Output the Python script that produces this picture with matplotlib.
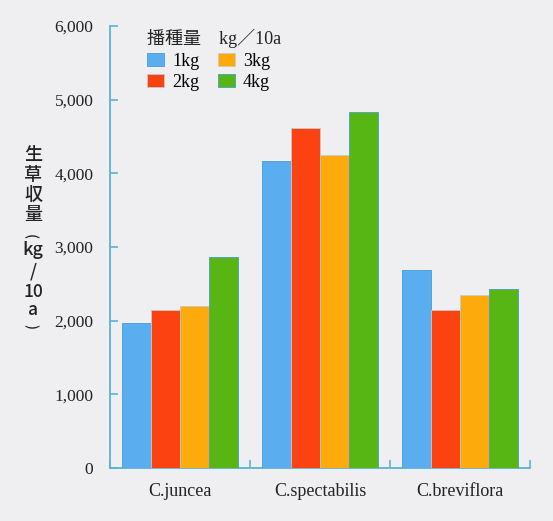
import matplotlib
matplotlib.use("Agg")
import matplotlib.pyplot as plt
from matplotlib.patches import Patch
import numpy as np

# Fresh-herb yield by species and seeding rate
species = ["C.juncea", "C.spectabilis", "C.breviflora"]
rates = ["1kg", "2kg", "3kg", "4kg"]
yield_1kg = [1970, 4170, 2690]
yield_2kg = [2150, 4610, 2140]
yield_3kg = [2200, 4245, 2355]
yield_4kg = [2860, 4835, 2435]
yticks = [0, 1000, 2000, 3000, 4000, 5000, 6000]
ytick_labels = ["0", "1,000", "2,000", "3,000", "4,000", "5,000", "6,000"]

series = [yield_1kg, yield_2kg, yield_3kg, yield_4kg]
colors = ["#5aaef0", "#fb4210", "#fdaa0c", "#58b614"]
edges = ["#3f9fd6", "#c9c9c9", "#c9c9c9", "#3f9fd6"]

bg = "#efeff1"
axis_col = "#5ab4d6"
serif = ["Liberation Serif", "Noto Sans CJK JP"]
sans_jp = ["Noto Sans CJK JP", "DejaVu Sans"]

fig = plt.figure(figsize=(5.53, 5.21), dpi=100, facecolor=bg)
ax = fig.add_axes([110 / 553, 1 - 468 / 521, 420 / 553, 442 / 521])
ax.set_facecolor(bg)

x = np.arange(len(species))
w = 0.207
for i, (vals, c, ec) in enumerate(zip(series, colors, edges)):
    ax.bar(x + (i - 1.5) * w, vals, width=w, color=c, edgecolor=ec,
           linewidth=0.6, zorder=3)

ax.set_xlim(-0.5, 2.5)
ax.set_ylim(0, 6000)

for s in ["top", "right"]:
    ax.spines[s].set_visible(False)
for s in ["left", "bottom"]:
    ax.spines[s].set_color(axis_col)
    ax.spines[s].set_linewidth(1.3)

ax.set_yticks(yticks)
ax.set_yticklabels(ytick_labels, fontfamily=serif, fontsize=12.5, color="#222222")
ax.tick_params(axis="y", direction="in", length=6, width=1.2, color=axis_col, pad=12)

ax.set_xticks(x)
ax.set_xticklabels(species, fontfamily=serif, fontsize=13, color="#222222")
ax.tick_params(axis="x", length=0, pad=11)
ax.set_xticks([-0.5, 0.5, 1.5, 2.5], minor=True)
ax.tick_params(axis="x", which="minor", direction="in", length=6, width=1.2,
               color=axis_col)

# Vertical-stacked y-axis title, one glyph at a time
label_parts = [("生", 33, 155, 0, 13), ("草", 33, 175, 0, 13), ("収", 33, 195, 0, 13),
               ("量", 33, 215, 0, 13), ("(", 30, 236, -90, 10), ("kg", 33, 250, 0, 13),
               ("/", 33, 272, 0, 13), ("10", 33, 292, 0, 12.5), ("a", 33, 310, 0, 12.5),
               (")", 30, 326, -90, 10)]
for txt, xpx, ypx, rot, fs in label_parts:
    fig.text(xpx / 553, 1 - ypx / 521, txt, ha="center", va="center",
             fontsize=fs, rotation=rot, family=sans_jp, weight="medium",
             color="#222222")

# Legend
handles = [Patch(facecolor=c, edgecolor=ec, linewidth=0.6)
           for c, ec in zip(colors, edges)]
leg = ax.legend(handles, rates, ncol=2, loc="upper left", frameon=False,
                prop={"family": serif, "size": 13},
                handlelength=0.95, handleheight=0.75, handletextpad=0.45,
                columnspacing=1.0, labelspacing=0.2, borderaxespad=0.0,
                borderpad=0.0)
leg.set_bbox_to_anchor((147 / 553, 1 - 53 / 521), transform=fig.transFigure)
fig.text(147 / 553, 1 - 38 / 521, "播種量　kg／10a", ha="left", va="center",
         fontsize=13, family=serif, color="#222222")

fig.savefig("out.png", dpi=100, facecolor=bg)
